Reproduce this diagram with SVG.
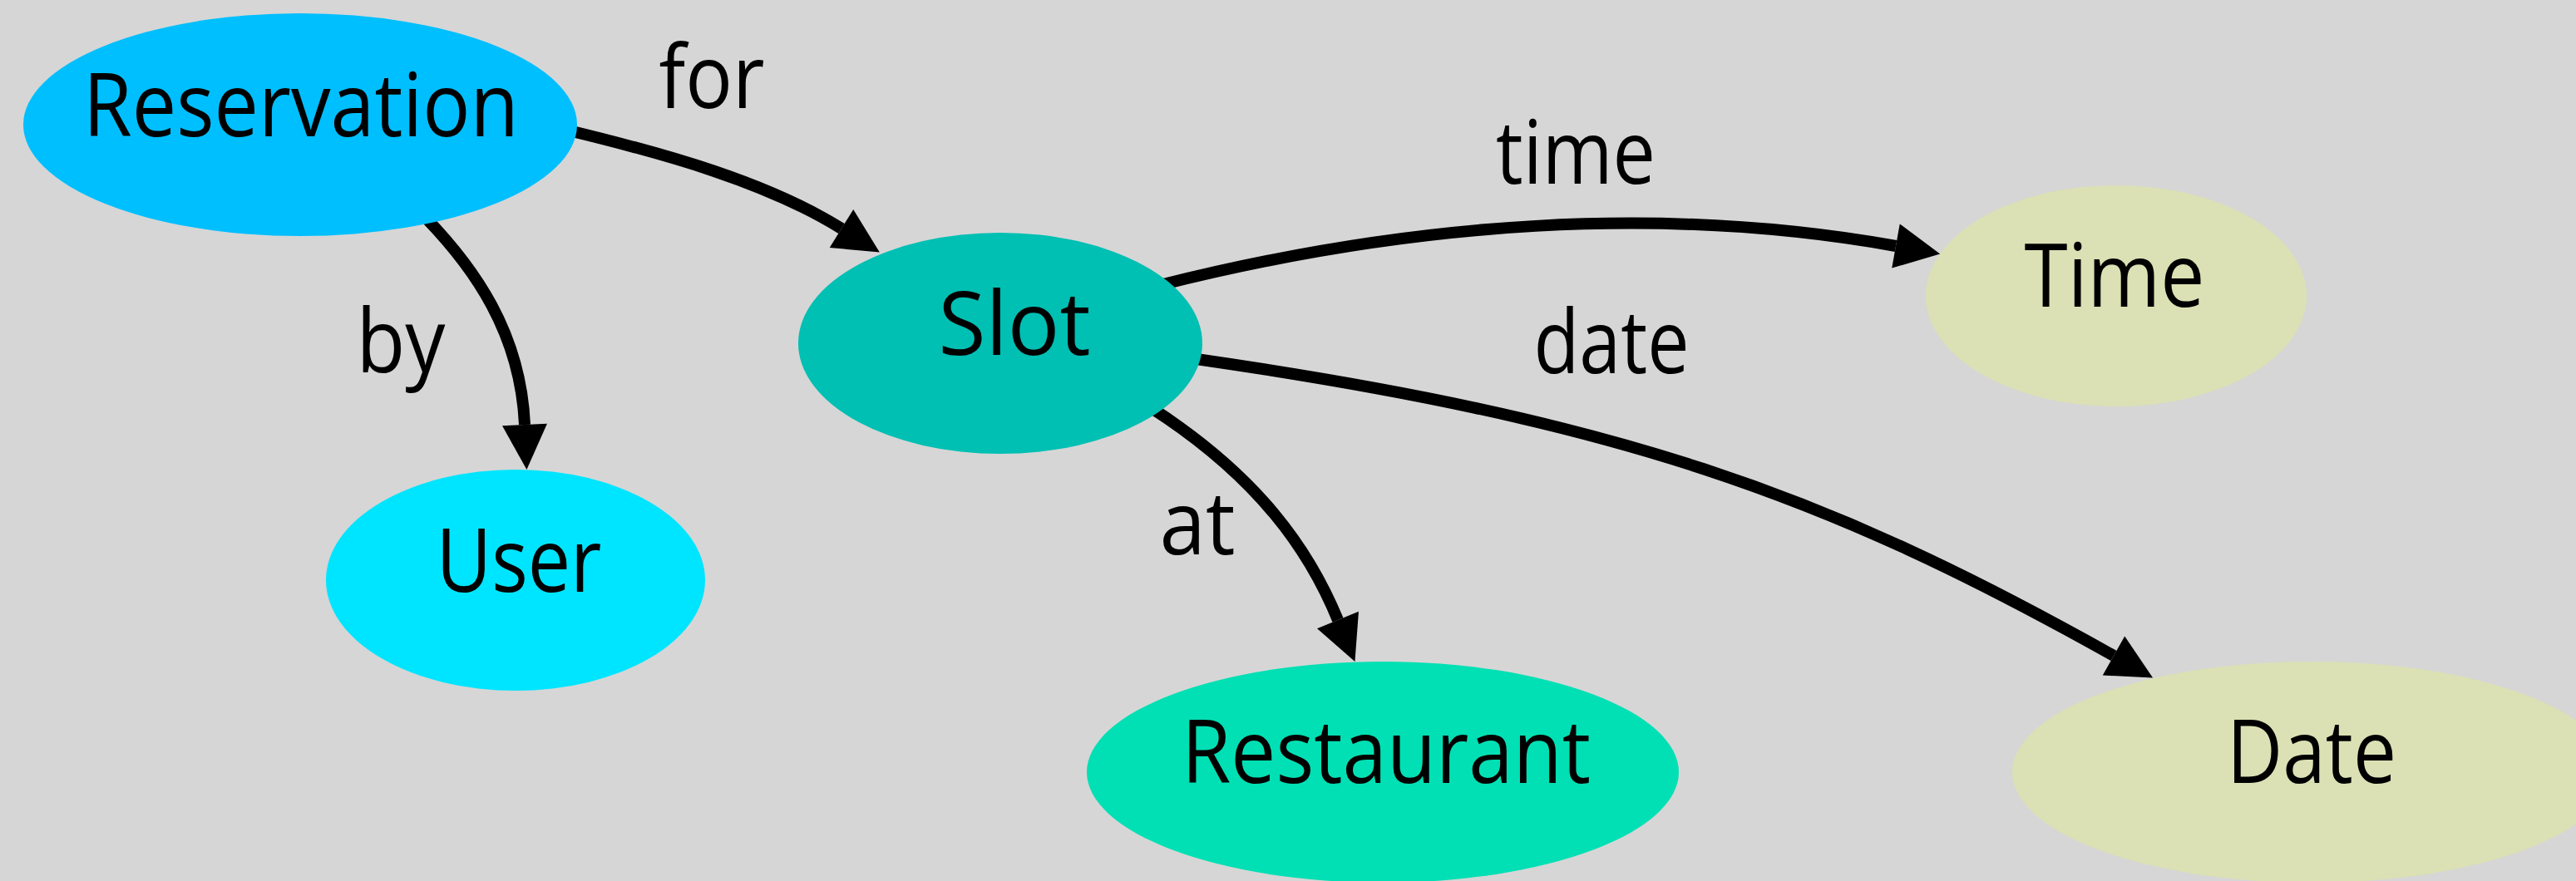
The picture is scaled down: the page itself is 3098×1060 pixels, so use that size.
<svg xmlns="http://www.w3.org/2000/svg" width="3098" height="1060" viewBox="0 0 3098 1060">
  <style>
    .edge { fill: none; stroke: #000; stroke-width: 14; marker-end: url(#arrow); }
    .label { font-family: "Open Sans", "Liberation Sans", Arial, sans-serif; font-size: 106px; fill: #000; text-anchor: middle; }
  </style>
  <defs>
    <!-- arrowhead: its base sits on the path end, tip points along the path -->
    <marker id="arrow" markerUnits="userSpaceOnUse" markerWidth="56" markerHeight="56" refX="0" refY="27" orient="auto" overflow="visible">
      <path d="M0,0 L54,27 L0,54 Z" fill="#000"/>
    </marker>
  </defs>

  <rect width="3098" height="1060" fill="#d6d6d6"/>

  <g id="connectors">
    <g id="edge-for">
      <path class="edge" d="M684,157 C800,185 922,219 1012,275"/>
      <text class="label" x="856" y="130" textLength="127" lengthAdjust="spacingAndGlyphs">for</text>
    </g>
    <g id="edge-by">
      <path class="edge" d="M512,262 C570,322 626,400 631,511"/>
      <text class="label" x="482" y="448" textLength="107" lengthAdjust="spacingAndGlyphs">by</text>
    </g>
    <g id="edge-time">
      <path class="edge" d="M1395,343 C1700,266 2000,246 2280,296"/>
      <text class="label" x="1895" y="221" textLength="192" lengthAdjust="spacingAndGlyphs">time</text>
    </g>
    <g id="edge-date">
      <path class="edge" d="M1432,431 C1945,505 2194,593 2542,789"/>
      <text class="label" x="1938" y="449" textLength="187" lengthAdjust="spacingAndGlyphs">date</text>
    </g>
    <g id="edge-at">
      <path class="edge" d="M1385,491 C1515,575 1575,663 1609,746"/>
      <text class="label" x="1440" y="667" textLength="91" lengthAdjust="spacingAndGlyphs">at</text>
    </g>
  </g>

  <g id="node-reservation">
    <ellipse cx="361" cy="150" rx="333" ry="134" fill="#00bfff"/>
    <text class="label" x="362" y="164" textLength="524" lengthAdjust="spacingAndGlyphs">Reservation</text>
  </g>
  <g id="node-user">
    <ellipse cx="620" cy="698" rx="228" ry="133" fill="#00e5ff"/>
    <text class="label" x="624" y="712" textLength="199" lengthAdjust="spacingAndGlyphs">User</text>
  </g>
  <g id="node-slot">
    <ellipse cx="1203" cy="413" rx="243" ry="133" fill="#00bfb3"/>
    <text class="label" x="1220" y="427" textLength="183" lengthAdjust="spacingAndGlyphs">Slot</text>
  </g>
  <g id="node-time">
    <ellipse cx="2545" cy="356" rx="229" ry="133" fill="#dbe1b4"/>
    <text class="label" x="2543" y="369" textLength="217" lengthAdjust="spacingAndGlyphs">Time</text>
  </g>
  <g id="node-restaurant">
    <ellipse cx="1663" cy="929" rx="356" ry="133" fill="#00e0b4"/>
    <text class="label" x="1667" y="942" textLength="492" lengthAdjust="spacingAndGlyphs">Restaurant</text>
  </g>
  <g id="node-date">
    <ellipse cx="2780" cy="929" rx="360" ry="133" fill="#dbe1b4"/>
    <text class="label" x="2780" y="942" textLength="204" lengthAdjust="spacingAndGlyphs">Date</text>
  </g>
</svg>
